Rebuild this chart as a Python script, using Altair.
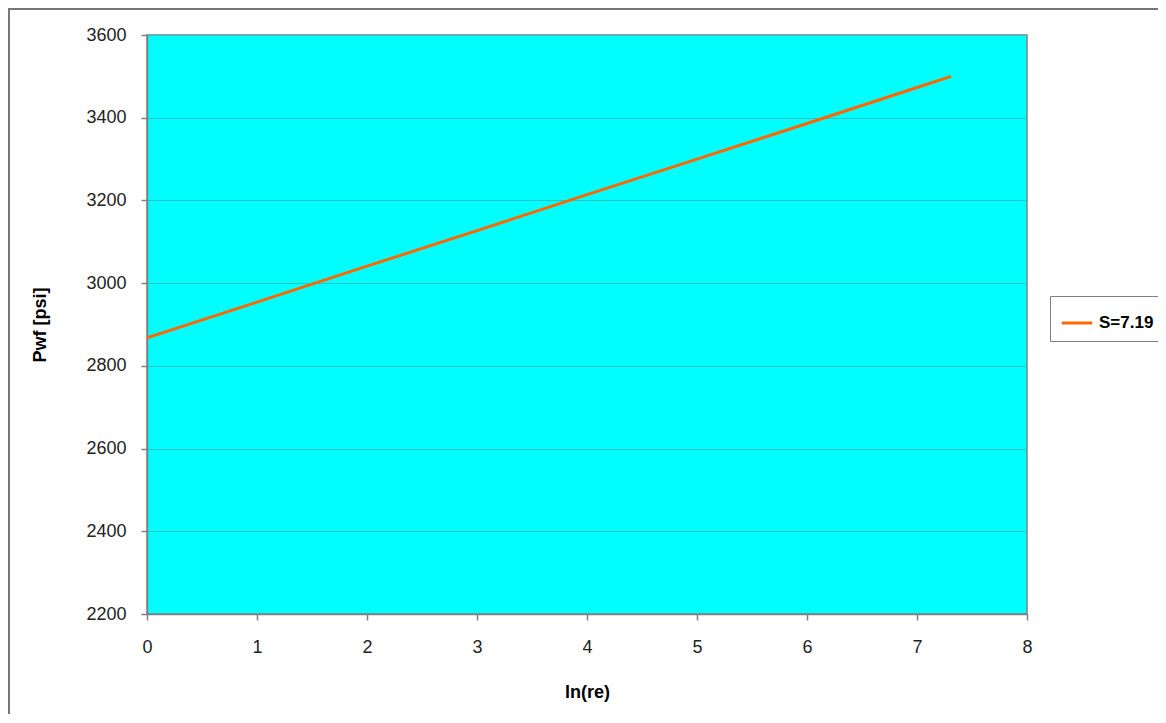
import altair as alt
import pandas as pd

ln_re = [0, 1, 2, 3, 4, 5, 6, 7, 7.31]
pwf = [2868, 2954, 3041, 3127, 3214, 3300, 3386, 3473, 3500]
series = ["S=7.19"] * len(ln_re)

df = pd.DataFrame({"ln_re": ln_re, "pwf": pwf, "series": series})

FONT = "Liberation Sans"

line = alt.Chart(df).mark_line(strokeWidth=3, clip=True).encode(
    x=alt.X("ln_re:Q", title="ln(re)",
            scale=alt.Scale(domain=[0, 8], nice=False, zero=False),
            axis=alt.Axis(values=[0, 1, 2, 3, 4, 5, 6, 7, 8], grid=False, format="d",
                          labelFlush=False, tickSize=6, labelPadding=18, titlePadding=27)),
    y=alt.Y("pwf:Q", title="Pwf [psi]",
            scale=alt.Scale(domain=[2200, 3600], nice=False, zero=False),
            axis=alt.Axis(values=[2200, 2400, 2600, 2800, 3000, 3200, 3400, 3600],
                          grid=True, format="d", labelFlush=False, tickSize=6,
                          labelPadding=15, titlePadding=36)),
    color=alt.Color("series:N", scale=alt.Scale(range=["#FF6600"]),
                    legend=alt.Legend(title=None, orient="none", legendX=903, legendY=261,
                                      symbolType="stroke", symbolSize=930,
                                      symbolStrokeWidth=3, labelFontSize=17,
                                      labelFontWeight="bold", labelFont=FONT,
                                      labelColor="#000000", labelOffset=5,
                                      padding=10, strokeColor="#808080",
                                      fillColor="#FFFFFF")),
    order="ln_re:Q",
)

frame = alt.Chart(df).mark_rect(fill=None, stroke="#777777", strokeWidth=2, clip=False).encode(
    x=alt.value(-138), x2=alt.value(1100), y=alt.value(-26), y2=alt.value(900)
)

chart = alt.layer(frame, line).properties(
    width=880, height=579,
    background="#FFFFFF",
    autosize=alt.AutoSizeParams(type="none"),
    padding={"left": 139, "top": 27, "right": 131, "bottom": 100},
).configure_view(
    fill="#00FFFF", stroke="#808080", strokeWidth=1.5
).configure_axis(
    labelFont=FONT, labelFontSize=18, labelColor="#222222",
    titleFont=FONT, titleFontSize=18, titleFontWeight="bold", titleColor="#000000",
    domainColor="#808080", domainWidth=1.5, tickColor="#808080", tickWidth=1.5,
    gridColor="#2BC4C4", gridWidth=1,
)

chart.save("out.html", embed_options={"renderer": "svg", "actions": False})
